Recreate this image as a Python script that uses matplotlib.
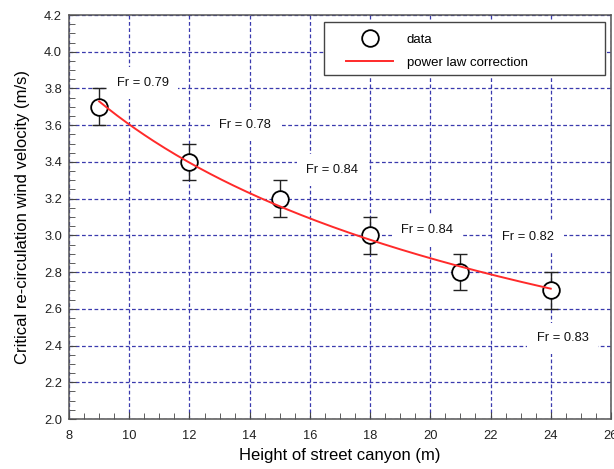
import numpy as np
import matplotlib
matplotlib.use('Agg')
import matplotlib.pyplot as plt
from matplotlib.ticker import MultipleLocator
from matplotlib.patches import Rectangle

plt.rcParams['font.family'] = ['Liberation Sans', 'DejaVu Sans']

# canyon height (m) and critical wind velocity (m/s)
height = [9, 12, 15, 18, 21, 24]
velocity = [3.7, 3.4, 3.2, 3.0, 2.8, 2.7]
err = [0.1, 0.1, 0.1, 0.1, 0.1, 0.1]

# Froude number labels and where they sit
fr_text = ['Fr = 0.79', 'Fr = 0.78', 'Fr = 0.84', 'Fr = 0.84', 'Fr = 0.82', 'Fr = 0.83']
fr_x = [10.45, 13.85, 16.75, 19.9, 23.25, 24.4]
fr_y = [3.83, 3.60, 3.355, 3.03, 2.99, 2.44]

# power law fit y = a*x^b from the data
b, loga = np.polyfit(np.log(height), np.log(velocity), 1)
xf = np.linspace(height[0], height[-1], 200)
yf = np.exp(loga) * xf**b

fig = plt.figure(figsize=(6.14, 4.69), dpi=100)
ax = fig.add_axes([0.1124, 0.1066, 0.9951 - 0.1124, 0.968 - 0.1066])

ax.grid(True, which='major', color='#3a3aae', linestyle=(0, (3, 2)), linewidth=0.9)
ax.set_axisbelow(True)

ax.errorbar(height, velocity, yerr=err, fmt='none', ecolor='#222222',
            elinewidth=1.0, capsize=5, capthick=1.0, zorder=3)
ax.plot(height, velocity, 'o', ms=12, mfc='white', mec='black', mew=1.3,
        label='data', zorder=4)
ax.plot(xf, yf, color='#ff2a2a', lw=1.4, label='power law correction', zorder=5)

for t, tx, ty in zip(fr_text, fr_x, fr_y):
    ax.text(tx, ty, t, fontsize=9.3, ha='center', va='center', color='#111111',
            bbox=dict(boxstyle='square,pad=0.75', fc='white', ec='none'), zorder=2.5)

ax.set_xlim(8, 26)
ax.set_ylim(2.0, 4.2)
ax.xaxis.set_major_locator(MultipleLocator(2))
ax.xaxis.set_minor_locator(MultipleLocator(0.5))
ax.yaxis.set_minor_locator(MultipleLocator(0.05))
ax.set_yticks(np.arange(2.0, 4.21, 0.2))
ax.set_yticklabels(['%.1f' % v for v in np.arange(2.0, 4.21, 0.2)])

ax.tick_params(which='both', direction='in', top=False, right=False,
               color='#444444', labelcolor='#222222', labelsize=9.3)
ax.tick_params(axis='x', which='major', length=5, pad=8)
ax.tick_params(axis='y', which='major', length=5, pad=5)
ax.tick_params(which='minor', length=4)
for s in ax.spines.values():
    s.set_color('#555555')
    s.set_linewidth(1.1)

ax.set_xlabel('Height of street canyon (m)', fontsize=12, labelpad=4)
ax.set_ylabel('Critical re-circulation wind velocity (m/s)', fontsize=12, labelpad=10)

# legend box drawn separately so the entries can sit further in
box = Rectangle((0.47, 0.851), 0.519, 0.132, transform=ax.transAxes,
                fc='white', ec='#444444', lw=1.0, zorder=6)
ax.add_patch(box)
leg = ax.legend(loc='upper left', bbox_to_anchor=(0.511, 0.954),
                fontsize=9.5, frameon=False, handlelength=3.6, handletextpad=1.0,
                borderpad=0, labelspacing=0.8, borderaxespad=0)
leg.set_zorder(7)

fig.savefig('out.png', dpi=100)
